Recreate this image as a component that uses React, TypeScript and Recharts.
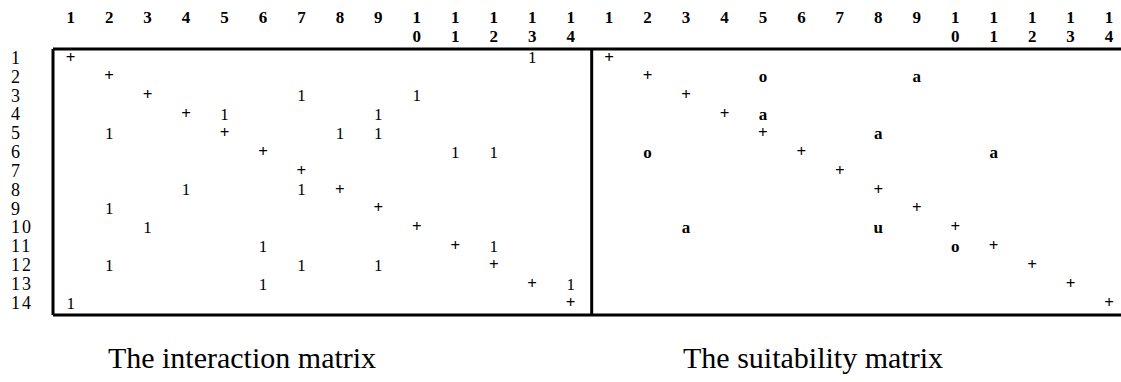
import React from 'react';
import { ScatterChart, Scatter, XAxis, YAxis, ReferenceLine } from 'recharts';

// each string is one row of a matrix, one character per column ('.' = empty cell)
const INTERACTION_ROWS = [
  '+...........1.',
  '.+............',
  '..+...1..1....',
  '...+1...1.....',
  '.1..+..11.....',
  '.....+....11..',
  '......+.......',
  '...1..1+......',
  '.1......+.....',
  '..1......+....',
  '.....1....+1..',
  '.1....1.1..+..',
  '.....1......+1',
  '1............+',
];

const SUITABILITY_ROWS = [
  '+.............',
  '.+..o...a.....',
  '..+...........',
  '...+a.........',
  '....+..a......',
  '.o...+....a...',
  '......+.......',
  '.......+......',
  '........+.....',
  '..a....u.+....',
  '.........o+...',
  '...........+..',
  '............+.',
  '.............+',
];

const COLUMN_LABELS = ['1', '2', '3', '4', '5', '6', '7', '8', '9', '10', '11', '12', '13', '14'];
const ROW_LABELS = ['1', '2', '3', '4', '5', '6', '7', '8', '9', '10', '11', '12', '13', '14'];
const CAPTIONS = ['The interaction matrix', 'The suitability matrix'];

interface Cell {
  x: number;
  y: number;
  mark: string;
}

// turn the row strings into scatter points; the second matrix sits after the first one
const toCells = (rows: string[], colOffset: number): Cell[] => {
  const cells: Cell[] = [];
  rows.forEach((row, r) => {
    row.split('').forEach((ch, c) => {
      if (ch !== '.') cells.push({ x: c + 1 + colOffset, y: r + 1, mark: ch });
    });
  });
  return cells;
};

const interactionData = toCells(INTERACTION_ROWS, 0);
const suitabilityData = toCells(SUITABILITY_ROWS, COLUMN_LABELS.length);

const xTicks = [...COLUMN_LABELS, ...COLUMN_LABELS].map((_, i) => i + 1);
const yTicks = ROW_LABELS.map((_, i) => i + 1);

const FONT = '"Liberation Serif", "Times New Roman", serif';

const X_DOMAIN: [number, number] = [0.54, 28.31];
const Y_DOMAIN: [number, number] = [0.549, 14.66];
const DIVIDER = 14.547;

const ColumnTick = (props: any) => {
  const { x, payload } = props;
  const label = COLUMN_LABELS[(payload.value - 1) % COLUMN_LABELS.length];
  return (
    <text x={x} y={23} textAnchor="middle" fontFamily={FONT} fontSize={17} fontWeight="bold" fill="#000">
      {label.split('').map((d, i) => (
        <tspan key={i} x={x} y={23 + i * 19}>
          {d}
        </tspan>
      ))}
    </text>
  );
};

const RowTick = (props: any) => {
  const { y, payload } = props;
  return (
    <text x={11} y={y} dy="0.35em" textAnchor="start" fontFamily={FONT} fontSize={18} letterSpacing={2} fill="#000">
      {ROW_LABELS[payload.value - 1]}
    </text>
  );
};

const MarkShape = (props: any) => {
  const { cx, cy, payload } = props;
  const isDigit = /[0-9]/.test(payload.mark);
  return (
    <text
      x={cx}
      y={cy}
      dy={payload.mark === '+' ? '0.3em' : '0.35em'}
      textAnchor="middle"
      fontFamily={FONT}
      fontSize={17}
      fontWeight={isDigit ? 'normal' : 'bold'}
      fill="#000"
    >
      {payload.mark}
    </text>
  );
};

const App: React.FC = () => {
  return (
    <div style={{ position: 'absolute', left: 0, top: 0, width: 1121, height: 382, background: '#fff' }}>
      <ScatterChart width={1121} height={382} margin={{ top: 0, right: 0, bottom: 67, left: 0 }}>
        <XAxis
          type="number"
          dataKey="x"
          orientation="top"
          domain={X_DOMAIN}
          allowDataOverflow
          ticks={xTicks}
          interval={0}
          height={49}
          axisLine={false}
          tickLine={false}
          tick={<ColumnTick />}
        />
        <YAxis
          type="number"
          dataKey="y"
          reversed
          domain={Y_DOMAIN}
          allowDataOverflow
          ticks={yTicks}
          interval={0}
          width={53}
          axisLine={false}
          tickLine={false}
          tick={<RowTick />}
        />
        <ReferenceLine y={Y_DOMAIN[0]} stroke="#000" strokeWidth={3} ifOverflow="visible" />
        <ReferenceLine y={Y_DOMAIN[1]} stroke="#000" strokeWidth={3} ifOverflow="visible" />
        <ReferenceLine x={X_DOMAIN[0]} stroke="#000" strokeWidth={3} ifOverflow="visible" />
        <ReferenceLine x={DIVIDER} stroke="#000" strokeWidth={3} ifOverflow="visible" />
        <Scatter data={interactionData} shape={<MarkShape />} isAnimationActive={false} />
        <Scatter data={suitabilityData} shape={<MarkShape />} isAnimationActive={false} />
      </ScatterChart>
      {CAPTIONS.map((caption, i) => (
        <div
          key={caption}
          style={{
            position: 'absolute',
            top: 340,
            left: i === 0 ? 92 : 663,
            width: 300,
            textAlign: 'center',
            fontFamily: FONT,
            fontSize: 30,
            lineHeight: '36px',
            color: '#000',
          }}
        >
          {caption}
        </div>
      ))}
    </div>
  );
};

export default App;
